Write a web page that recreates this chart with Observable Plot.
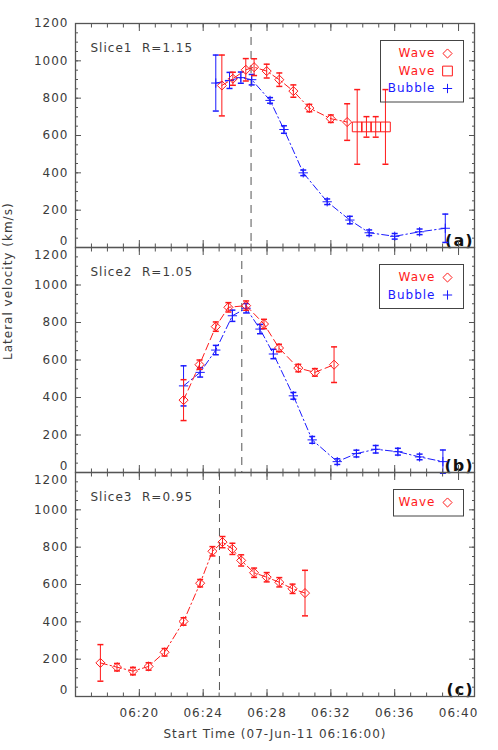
<!DOCTYPE html>
<html>
<head>
<meta charset="utf-8">
<script src="https://cdn.jsdelivr.net/npm/d3@7"></script>
<script src="https://cdn.jsdelivr.net/npm/@observablehq/plot@0.6"></script>
<style>
  html, body { margin: 0; padding: 0; background: #fff; }
  #chart { width: 498px; }
  #chart svg { display: block; }
</style>
</head>
<body>
<div id="chart"></div>
<script>
// ---- data (time = minutes after 06:00 UT, velocity in km/s) ----
const panels = ["a", "b", "c"];
const panelTitles = ["Slice1  R=1.15", "Slice2  R=1.05", "Slice3  R=0.95"];
const panelTags = ["(a)", "(b)", "(c)"];
const eventTimes = [27.0, 26.42, 25.02];

// Panel (a)
const waveA_t = [25.17, 25.86, 26.67, 27.19, 27.98, 28.77, 29.65, 30.65, 32.0, 33.02];
const waveA_v = [868, 904, 952, 966, 945, 899, 838, 747, 690, 672];
const waveA_e = [163, 35, 60, 45, 37, 36, 33, 20, 20, 98];
const sqA_t = [33.65, 34.23, 34.81, 35.42];
const sqA_v = [646, 646, 646, 646];
const sqA_e = [200, 55, 55, 200];
const bubA_t = [24.79, 25.65, 26.36, 27.04, 28.19, 29.06, 30.27, 31.77, 33.19, 34.4, 36.0, 37.56, 39.17];
const bubA_v = [881, 895, 910, 899, 788, 632, 400, 245, 147, 79, 60, 84, 103];
const bubA_e = [150, 43, 30, 28, 15, 20, 15, 15, 20, 15, 15, 15, 76];

// Panel (b)
const waveB_t = [22.77, 23.77, 24.79, 25.58, 26.69, 27.81, 28.75, 29.96, 31.0, 32.2];
const waveB_v = [386, 575, 778, 881, 890, 792, 664, 557, 534, 575];
const waveB_e = [109, 25, 25, 25, 25, 25, 20, 20, 20, 95];
const bubB_t = [22.77, 23.81, 24.79, 25.83, 26.69, 27.56, 28.4, 29.65, 30.83, 32.4, 33.6, 34.81, 36.2, 37.56, 39.02];
const bubB_v = [462, 534, 653, 836, 876, 765, 632, 409, 174, 58, 101, 124, 111, 83, 58];
const bubB_e = [107, 25, 25, 30, 25, 25, 25, 18, 18, 15, 18, 20, 18, 15, 62];

// Panel (c)
const waveC_t = [17.56, 18.6, 19.6, 20.58, 21.58, 22.77, 23.81, 24.58, 25.21, 25.83, 26.38, 27.19, 27.98, 28.77, 29.6, 30.38];
const waveC_v = [180, 157, 136, 161, 237, 402, 607, 778, 827, 791, 729, 663, 639, 612, 577, 554];
const waveC_e = [98, 20, 20, 20, 20, 20, 20, 25, 30, 30, 30, 25, 25, 25, 25, 122];

// Legends
const legendA = [["Wave", "diamond"], ["Wave", "square"], ["Bubble", "plus"]];
const legendB = [["Wave", "diamond"], ["Bubble", "plus"]];
const legendC = [["Wave", "diamond"]];

// Axes
const xDomain = [16, 41];
const yDomain = [0, 1200];
const xLabelTicks = [20, 24, 28, 32, 36, 40];
const xMajorTicks = [16, 20, 24, 28, 32, 36, 40];
const xMinorTicks = d3.range(16, 42, 1);
const yMajorTicks = [0, 200, 400, 600, 800, 1000, 1200];
const yInnerLabels = [200, 400, 600, 800, 1000];
const yMinorTicks = d3.range(0, 1201, 50);
const xTitle = "Start Time (07-Jun-11 06:16:00)";
const yTitle = "Lateral velocity (km/s)";

// ---- styling ----
const RED = "#ff1a1a";
const BLUE = "#1a1aff";
const AX = "#555";
const TXT = "#3c3c3c";
const FONT = "DejaVu Sans";

const capSymbol = {
  draw(ctx, size) { const r = Math.sqrt(size / Math.PI); ctx.moveTo(-r, 0); ctx.lineTo(r, 0); }
};
const zip = (t, v, e) => t.map((d, i) => ({t: d, v: v[i], e: e[i]}));

function seriesMarks(data, color, kind, dash, withLine = true) {
  const m = [];
  if (withLine) m.push(Plot.line(data, {x: "t", y: "v", stroke: color, strokeWidth: 1, strokeDasharray: dash}));
  m.push(Plot.ruleX(data, {x: "t", y1: d => d.v - d.e, y2: d => d.v + d.e, stroke: color, strokeWidth: 1}));
  m.push(Plot.dot(data, {x: "t", y: d => d.v - d.e, symbol: capSymbol, r: 3, stroke: color, fill: "none"}));
  m.push(Plot.dot(data, {x: "t", y: d => d.v + d.e, symbol: capSymbol, r: 3, stroke: color, fill: "none"}));
  m.push(Plot.dot(data, symbolOpts(kind, color, {x: "t", y: "v"})));
  return m;
}
function symbolOpts(kind, color, extra) {
  const base = {stroke: color, fill: "none", strokeWidth: 1, ...extra};
  if (kind === "diamond") return {...base, symbol: "diamond2", r: 4.1};
  if (kind === "square") return {...base, symbol: "square2", r: 6.2};
  return {...base, symbol: "plus", r: 3.1};
}

function axisMarks(showXLabels, topPanel) {
  const lab = {anchor: "left", tickSize: 0, tickPadding: 7, label: null, color: TXT, fontSize: 12, tickFormat: d => String(d)};
  const m = [
    Plot.frame({stroke: AX, strokeWidth: 1.3}),
    Plot.axisY({...lab, ticks: yInnerLabels}),
    Plot.axisY({...lab, ticks: [0], dy: -6}),
    Plot.axisY({...lab, ticks: [1200], dy: topPanel ? 0 : 8}),
    Plot.axisY({ticks: yMajorTicks, anchor: "left", tickSize: -6, tickFormat: () => "", label: null, stroke: AX}),
    Plot.axisY({ticks: yMinorTicks, anchor: "left", tickSize: -3, tickFormat: () => "", label: null, stroke: AX}),
    Plot.axisY({ticks: yMajorTicks, anchor: "right", tickSize: -6, tickFormat: () => "", label: null, stroke: AX}),
    Plot.axisY({ticks: yMinorTicks, anchor: "right", tickSize: -3, tickFormat: () => "", label: null, stroke: AX}),
    Plot.axisX({ticks: xMajorTicks, anchor: "bottom", tickSize: -7, tickFormat: () => "", label: null, stroke: AX}),
    Plot.axisX({ticks: xMinorTicks, anchor: "bottom", tickSize: -3.5, tickFormat: () => "", label: null, stroke: AX}),
    Plot.axisX({ticks: xMajorTicks, anchor: "top", tickSize: -7, tickFormat: () => "", label: null, stroke: AX}),
    Plot.axisX({ticks: xMinorTicks, anchor: "top", tickSize: -3.5, tickFormat: () => "", label: null, stroke: AX})
  ];
  if (showXLabels) {
    m.push(Plot.axisX({ticks: xLabelTicks, anchor: "bottom", tickSize: 0, tickPadding: 12, label: null, color: TXT, fontSize: 12,
      tickFormat: d => `06:${String(d).padStart(2, "0")}`}));
    m.push(Plot.text([xTitle], {text: d => d, frameAnchor: "bottom", dy: 38, lineAnchor: "middle", fill: TXT, fontSize: 12}));
  }
  return m;
}

function legendMarks(entries, boxLeftInset, plotH) {
  const colorOf = s => (s === "plus" ? BLUE : RED);
  const lineH = 17.5, top = 17;
  const boxH = entries.length * lineH + 9;
  const m = [Plot.frame({stroke: "#444", strokeWidth: 1, insetTop: top, insetRight: 11, insetLeft: boxLeftInset, insetBottom: plotH - top - boxH})];
  entries.forEach(([label, sym], i) => {
    const dy = top + 13 + i * lineH;
    m.push(Plot.text([label], {text: d => d, frameAnchor: "top-right", dx: -39, dy, textAnchor: "end", lineAnchor: "middle", fill: colorOf(sym), fontSize: 12}));
    m.push(Plot.dot([label], symbolOpts(sym, colorOf(sym), {frameAnchor: "top-right", dx: -27, dy})));
  });
  return m;
}

function panelMarks(idx) {
  return [
    Plot.ruleX([eventTimes[idx]], {x: d => d, stroke: "#555", strokeWidth: 1, strokeDasharray: "8,6"}),
    Plot.text([panelTitles[idx]], {text: d => d, frameAnchor: "top-left", dx: 15, dy: 25, textAnchor: "start", lineAnchor: "middle", fill: TXT, fontSize: 12}),
    Plot.text([panelTags[idx]], {text: d => d, frameAnchor: "bottom-right", dx: -1, dy: -2, textAnchor: "end", lineAnchor: "bottom", fill: "#111", fontSize: 16, fontWeight: "bold"})
  ];
}

const common = {
  width: 498,
  marginLeft: 75,
  marginRight: 24,
  x: {domain: xDomain},
  y: {domain: yDomain},
  style: {fontFamily: FONT, fontSize: "12px", letterSpacing: "1px", overflow: "visible", background: "transparent", color: TXT}
};
const DASH_DOT = "7,3,1.5,3";

const plotA = Plot.plot({
  ...common, height: 247, marginTop: 23, marginBottom: 0,
  marks: [
    ...panelMarks(0),
    ...seriesMarks(zip(bubA_t, bubA_v, bubA_e), BLUE, "plus", DASH_DOT),
    ...seriesMarks(zip(waveA_t, waveA_v, waveA_e), RED, "diamond", DASH_DOT),
    ...seriesMarks(zip(sqA_t, sqA_v, sqA_e), RED, "square", null, false),
    ...legendMarks(legendA, 305, 224),
    ...axisMarks(false, true)
  ]
});

const plotB = Plot.plot({
  ...common, height: 225, marginTop: 0, marginBottom: 0,
  marks: [
    ...panelMarks(1),
    ...seriesMarks(zip(bubB_t, bubB_v, bubB_e), BLUE, "plus", DASH_DOT),
    ...seriesMarks(zip(waveB_t, waveB_v, waveB_e), RED, "diamond", "7,4"),
    ...legendMarks(legendB, 304, 225),
    Plot.text([yTitle], {text: d => d, frameAnchor: "left", dx: -67, rotate: -90, fill: TXT, fontSize: 12}),
    ...axisMarks(false, false)
  ]
});

const plotC = Plot.plot({
  ...common, height: 278, marginTop: 0, marginBottom: 54,
  marks: [
    ...panelMarks(2),
    ...seriesMarks(zip(waveC_t, waveC_v, waveC_e), RED, "diamond", DASH_DOT),
    ...legendMarks(legendC, 318, 224),
    ...axisMarks(true, false)
  ]
});

const host = document.getElementById("chart");
host.append(plotA, plotB, plotC);
</script>
</body>
</html>
